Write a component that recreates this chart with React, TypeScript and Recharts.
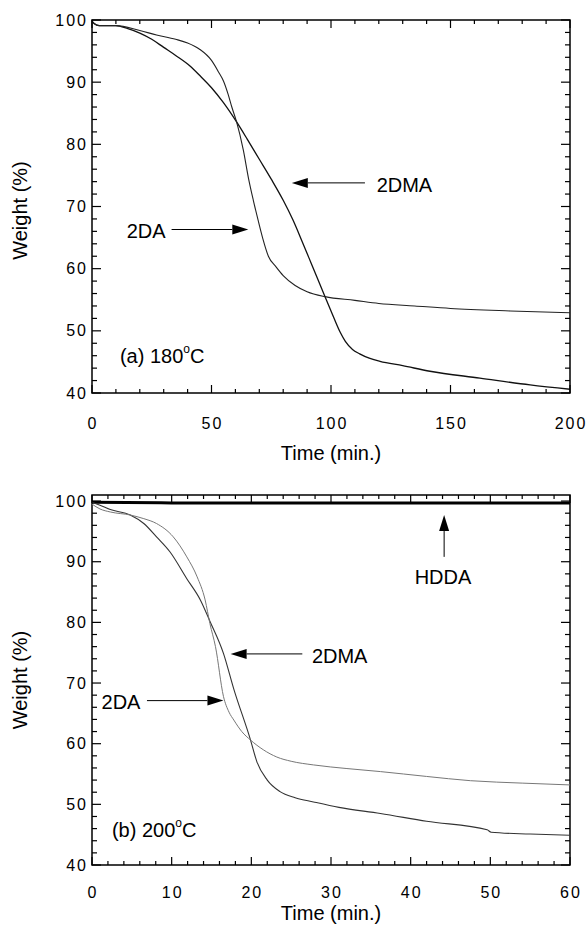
import React from 'react';
import { LineChart, Line, XAxis, YAxis, ReferenceArea, ReferenceLine, ReferenceDot } from 'recharts';

const FONT = '"Liberation Sans", Arial, Helvetica, sans-serif';

// ---------- Panel (a) 180 °C ----------
const timeTicksA = [0, 10, 20, 30, 40, 50, 60, 70, 80, 90, 100, 110, 120, 130, 140, 150, 160, 170, 180, 190, 200];
const timeLabelsA = [0, 50, 100, 150, 200];
const weightTicksA = [40, 42, 44, 46, 48, 50, 52, 54, 56, 58, 60, 62, 64, 66, 68, 70, 72, 74, 76, 78, 80, 82, 84, 86, 88, 90, 92, 94, 96, 98, 100];
const weightLabels = [40, 50, 60, 70, 80, 90, 100];

const da180 = [
  { t: 0, w: 99.8 }, { t: 1, w: 99.4 }, { t: 3, w: 99.1 }, { t: 10, w: 99.1 }, { t: 20, w: 98.3 },
  { t: 27, w: 97.6 }, { t: 35, w: 96.9 }, { t: 40, w: 96.3 }, { t: 45, w: 95.3 }, { t: 50, w: 93.5 },
  { t: 53, w: 91.6 }, { t: 55, w: 90.2 }, { t: 57, w: 88.0 }, { t: 58.5, w: 86.0 }, { t: 60.5, w: 83.6 },
  { t: 63.3, w: 79.1 }, { t: 65.5, w: 74.5 }, { t: 67.5, w: 71.0 }, { t: 69.5, w: 67.8 }, { t: 71.5, w: 64.8 },
  { t: 73.8, w: 62.0 }, { t: 77, w: 60.3 }, { t: 80, w: 58.9 }, { t: 85, w: 57.3 }, { t: 90, w: 56.3 },
  { t: 97.5, w: 55.5 }, { t: 110, w: 54.9 }, { t: 120, w: 54.4 }, { t: 135, w: 54.0 }, { t: 150, w: 53.6 },
  { t: 175, w: 53.2 }, { t: 200, w: 52.9 },
];

const dma180 = [
  { t: 0, w: 99.8 }, { t: 1, w: 99.4 }, { t: 3, w: 99.1 }, { t: 10, w: 99.1 }, { t: 15, w: 98.6 },
  { t: 20, w: 97.9 }, { t: 25, w: 96.9 }, { t: 30, w: 95.6 }, { t: 35, w: 94.3 }, { t: 41, w: 92.6 },
  { t: 45, w: 91.1 }, { t: 50, w: 89.1 }, { t: 55, w: 86.7 }, { t: 60.5, w: 83.6 }, { t: 65, w: 80.8 },
  { t: 70, w: 77.6 }, { t: 75, w: 74.4 }, { t: 80, w: 71.0 }, { t: 84, w: 67.9 }, { t: 88, w: 64.3 },
  { t: 92, w: 60.6 }, { t: 97.5, w: 55.5 }, { t: 100, w: 53.2 }, { t: 103.8, w: 49.8 }, { t: 106, w: 48.3 },
  { t: 109, w: 47.0 }, { t: 112, w: 46.3 }, { t: 116, w: 45.6 }, { t: 120.5, w: 45.1 }, { t: 130, w: 44.4 },
  { t: 141.4, w: 43.5 }, { t: 162.3, w: 42.4 }, { t: 183.3, w: 41.3 }, { t: 200, w: 40.6 },
];

// ---------- Panel (b) 200 °C ----------
const timeTicksB = [0, 2, 4, 6, 8, 10, 12, 14, 16, 18, 20, 22, 24, 26, 28, 30, 32, 34, 36, 38, 40, 42, 44, 46, 48, 50, 52, 54, 56, 58, 60];
const timeLabelsB = [0, 10, 20, 30, 40, 50, 60];
const weightTicksB = weightTicksA;

const da200 = [
  { t: 0, w: 99.5 }, { t: 1, w: 98.7 }, { t: 2.3, w: 98.2 }, { t: 4.8, w: 97.7 }, { t: 6.5, w: 97.1 },
  { t: 8.1, w: 96.3 }, { t: 10.2, w: 94.1 }, { t: 11.9, w: 90.8 }, { t: 13.2, w: 87.5 }, { t: 14.2, w: 83.7 },
  { t: 14.8, w: 79.8 }, { t: 15.5, w: 76.0 }, { t: 16.5, w: 67.8 }, { t: 17.2, w: 65.2 }, { t: 17.8, w: 63.9 },
  { t: 18.8, w: 62.0 }, { t: 19.9, w: 60.6 }, { t: 21.5, w: 59.0 }, { t: 23.2, w: 57.8 }, { t: 25, w: 57.1 },
  { t: 27.8, w: 56.5 }, { t: 32, w: 55.9 }, { t: 36.2, w: 55.4 }, { t: 42, w: 54.6 }, { t: 47.5, w: 53.9 },
  { t: 54, w: 53.5 }, { t: 60, w: 53.2 },
];

const dma200 = [
  { t: 0, w: 99.8 }, { t: 1, w: 99.3 }, { t: 2.3, w: 98.6 }, { t: 4.8, w: 97.7 }, { t: 6.5, w: 96.3 },
  { t: 8.1, w: 94.1 }, { t: 9.8, w: 91.6 }, { t: 11.9, w: 87.2 }, { t: 13.6, w: 83.7 }, { t: 14.8, w: 80.2 },
  { t: 16.5, w: 74.9 }, { t: 17.8, w: 69.0 }, { t: 19.9, w: 60.6 }, { t: 20.7, w: 57.0 }, { t: 22, w: 54.0 },
  { t: 23.6, w: 52.1 }, { t: 25.5, w: 51.1 }, { t: 27.8, w: 50.4 }, { t: 31, w: 49.5 }, { t: 36.2, w: 48.5 },
  { t: 42, w: 47.2 }, { t: 49.6, w: 45.8 }, { t: 50.1, w: 45.4 }, { t: 55, w: 45.1 }, { t: 60, w: 44.9 },
];

const hdda200 = [
  { t: 0, w: 99.8 }, { t: 10, w: 99.7 }, { t: 30, w: 99.7 }, { t: 60, w: 99.7 },
];

// ---------- annotations (data units) ----------
const arrowsA = [
  { tail: { x: 114.2, y: 73.8 }, tip: { x: 83.6, y: 73.8 } },
  { tail: { x: 33.3, y: 66.3 }, tip: { x: 65.4, y: 66.3 } },
];
const textsA = [
  { x: 119.1, y: 73.5, text: '2DMA' },
  { x: 14.5, y: 66.0, text: '2DA' },
];
const arrowsB = [
  { tail: { x: 44.2, y: 90.8 }, tip: { x: 44.2, y: 97.7 } },
  { tail: { x: 26.4, y: 74.8 }, tip: { x: 17.4, y: 74.8 } },
  { tail: { x: 6.9, y: 67.1 }, tip: { x: 16.5, y: 67.1 } },
];
const textsB = [
  { x: 40.5, y: 87.5, text: 'HDDA' },
  { x: 27.6, y: 74.5, text: '2DMA' },
  { x: 1.2, y: 66.8, text: '2DA' },
];

const W = 588;
const PLOT_RIGHT = 570;

function makeXTick(labels: number[], top: number, majorLen: number, minorLen: number, labelDy: number) {
  return (p: any) => {
    const v = p.payload.value;
    const major = labels.includes(v);
    const len = major ? majorLen : minorLen;
    return (
      <g>
        <line x1={p.x} y1={p.y} x2={p.x} y2={p.y - len} stroke="#000" strokeWidth={1.2} />
        <line x1={p.x} y1={top} x2={p.x} y2={top + len} stroke="#000" strokeWidth={1.2} />
        {major && (
          <text x={p.x + 1} y={p.y + labelDy} textAnchor="middle" dominantBaseline="central"
            fontSize={16} letterSpacing={2} fontFamily={FONT} fill="#000">{v}</text>
        )}
      </g>
    );
  };
}

function makeYTick(labels: number[], majorLen: number, minorLen: number) {
  return (p: any) => {
    const v = p.payload.value;
    const major = labels.includes(v);
    const len = major ? majorLen : minorLen;
    return (
      <g>
        <line x1={p.x} y1={p.y} x2={p.x + len} y2={p.y} stroke="#000" strokeWidth={1.2} />
        <line x1={PLOT_RIGHT} y1={p.y} x2={PLOT_RIGHT - len} y2={p.y} stroke="#000" strokeWidth={1.2} />
        {major && (
          <text x={p.x - 4} y={p.y} textAnchor="end" dominantBaseline="central"
            fontSize={16} letterSpacing={2} fontFamily={FONT} fill="#000">{v}</text>
        )}
      </g>
    );
  };
}

function arrowShape(p: any) {
  const { x1, y1, x2, y2 } = p;
  const dx = x2 - x1;
  const dy = y2 - y1;
  const L = Math.hypot(dx, dy) || 1;
  const ux = dx / L;
  const uy = dy / L;
  const head = 16;
  const half = 5;
  const bx = x2 - ux * head;
  const by = y2 - uy * head;
  return (
    <g>
      <line x1={x1} y1={y1} x2={bx} y2={by} stroke="#000" strokeWidth={1} />
      <polygon points={`${x2},${y2} ${bx - uy * half},${by + ux * half} ${bx + uy * half},${by - ux * half}`} fill="#000" />
    </g>
  );
}

function textShape(text: string) {
  return (p: any) => (
    <text x={p.cx} y={p.cy} dominantBaseline="central" fontSize={20} fontFamily={FONT} fill="#000">{text}</text>
  );
}

function tempShape(prefix: string, temp: string) {
  return (p: any) => (
    <text x={p.cx} y={p.cy} dominantBaseline="central" fontSize={20} fontFamily={FONT} fill="#000">
      {prefix} {temp}
      <tspan dy={-7} fontSize={12}>o</tspan>
      <tspan dy={7}>C</tspan>
    </text>
  );
}

function yLabel(dyOffset: number) {
  return (p: any) => {
    const vb = p.viewBox || { x: 0, y: 0, width: 0, height: 0 };
    const cy = vb.y + vb.height / 2 + dyOffset;
    return (
      <text x={20} y={cy} transform={`rotate(-90 20 ${cy})`} textAnchor="middle" dominantBaseline="central"
        fontSize={20} fontFamily={FONT} fill="#000">Weight (%)</text>
    );
  };
}

function xLabel(dy: number) {
  return (p: any) => {
    const vb = p.viewBox || { x: 0, y: 0, width: 0, height: 0 };
    return (
      <text x={vb.x + vb.width / 2} y={vb.y + dy} textAnchor="middle" dominantBaseline="central"
        fontSize={20} fontFamily={FONT} fill="#000">Time (min.)</text>
    );
  };
}

function PanelA() {
  const top = 20;
  return (
    <LineChart width={W} height={470} margin={{ top, right: W - PLOT_RIGHT, bottom: 0, left: 0 }}>
      <XAxis type="number" dataKey="t" domain={[0, 200]} ticks={timeTicksA} interval={0}
        tickSize={0} tickMargin={0} axisLine={false} tickLine={false} height={77} allowDataOverflow
        tick={makeXTick(timeLabelsA, top, 8, 4, 30)} label={{ content: xLabel(60) }} />
      <YAxis type="number" domain={[40, 100]} ticks={weightTicksA} interval={0} width={92}
        tickSize={0} tickMargin={0} axisLine={false} tickLine={false} allowDataOverflow
        tick={makeYTick(weightLabels, 9, 5)} label={{ content: yLabel(4) }} />
      <ReferenceArea x1={0} x2={200} y1={40} y2={100} fill="none" stroke="#000" strokeWidth={1.5} />
      <Line data={dma180} dataKey="w" type="monotone" stroke="#111" strokeWidth={1.3} dot={false} isAnimationActive={false} />
      <Line data={da180} dataKey="w" type="monotone" stroke="#222" strokeWidth={1.1} dot={false} isAnimationActive={false} />
      {arrowsA.map((a, i) => (
        <ReferenceLine key={'a' + i} segment={[a.tail, a.tip]} shape={arrowShape} />
      ))}
      {textsA.map((t, i) => (
        <ReferenceDot key={'t' + i} x={t.x} y={t.y} r={0} shape={textShape(t.text)} />
      ))}
      <ReferenceDot x={11.7} y={45.9} r={0} shape={tempShape('(a)', '180')} />
    </LineChart>
  );
}

function PanelB() {
  const top = 25;
  return (
    <LineChart width={W} height={456} margin={{ top, right: W - PLOT_RIGHT, bottom: 0, left: 0 }}>
      <XAxis type="number" dataKey="t" domain={[0, 60]} ticks={timeTicksB} interval={0}
        tickSize={0} tickMargin={0} axisLine={false} tickLine={false} height={61} allowDataOverflow
        tick={makeXTick(timeLabelsB, top, 8, 4, 27)} label={{ content: xLabel(48) }} />
      <YAxis type="number" domain={[40, 101]} ticks={weightTicksB} interval={0} width={92}
        tickSize={0} tickMargin={0} axisLine={false} tickLine={false} allowDataOverflow
        tick={makeYTick(weightLabels, 9, 5)} label={{ content: yLabel(0) }} />
      <ReferenceArea x1={0} x2={60} y1={40} y2={101} fill="none" stroke="#000" strokeWidth={1.5} />
      <Line data={hdda200} dataKey="w" type="monotone" stroke="#000" strokeWidth={3} dot={false} isAnimationActive={false} />
      <Line data={dma200} dataKey="w" type="monotone" stroke="#333" strokeWidth={1.1} dot={false} isAnimationActive={false} />
      <Line data={da200} dataKey="w" type="monotone" stroke="#777" strokeWidth={1} dot={false} isAnimationActive={false} />
      {arrowsB.map((a, i) => (
        <ReferenceLine key={'a' + i} segment={[a.tail, a.tip]} shape={arrowShape} />
      ))}
      {textsB.map((t, i) => (
        <ReferenceDot key={'t' + i} x={t.x} y={t.y} r={0} shape={textShape(t.text)} />
      ))}
      <ReferenceDot x={2.5} y={45.8} r={0} shape={tempShape('(b)', '200')} />
    </LineChart>
  );
}

export default function App() {
  return (
    <div style={{ position: 'absolute', left: 0, top: 0, width: W, height: 926, background: '#fff', overflow: 'hidden' }}>
      <div style={{ position: 'absolute', left: 0, top: 0 }}>
        <PanelA />
      </div>
      <div style={{ position: 'absolute', left: 0, top: 470 }}>
        <PanelB />
      </div>
    </div>
  );
}
